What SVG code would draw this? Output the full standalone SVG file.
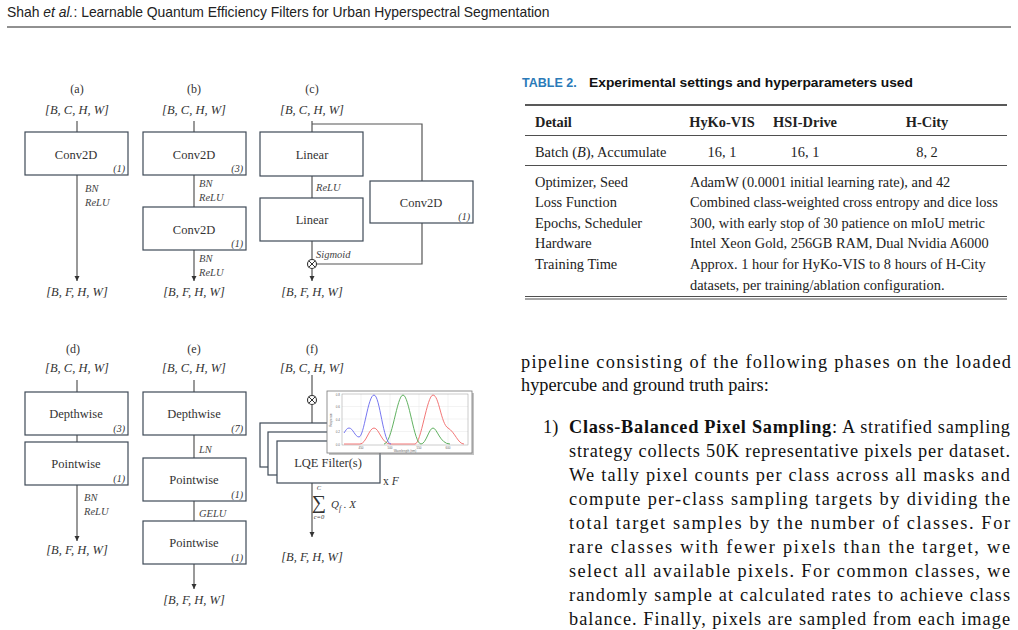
<svg xmlns="http://www.w3.org/2000/svg" width="1018" height="630" viewBox="0 0 1018 630">
<style>
.hdr{font-family:"Liberation Sans",Arial,sans-serif;font-size:13.9px;fill:#222}
.lbl{font-family:"Liberation Serif","Times New Roman",serif;font-size:12px;fill:#333;text-anchor:middle}
.dim{font-family:"Liberation Serif","Times New Roman",serif;font-size:12.5px;font-style:italic;fill:#333;text-anchor:middle}
.box{fill:#fff;stroke:#3e4a57;stroke-width:1.2}
.name{font-family:"Liberation Serif","Times New Roman",serif;font-size:12.5px;fill:#333;text-anchor:middle}
.k{font-family:"Liberation Serif","Times New Roman",serif;font-size:10px;font-style:italic;fill:#333;text-anchor:end}
.act{font-family:"Liberation Serif","Times New Roman",serif;font-size:10.5px;font-style:italic;fill:#444}
.ln{stroke:#555;stroke-width:1.2;fill:none}
.arr{stroke:#555;stroke-width:1.2;fill:none;marker-end:url(#ah)}
.tt{font-family:"Liberation Sans",Arial,sans-serif;font-size:12.5px;font-weight:bold}
.tb{font-family:"Liberation Serif","Times New Roman",serif;font-size:14.4px;fill:#222}
.tbc{font-family:"Liberation Serif","Times New Roman",serif;font-size:14.4px;fill:#222;text-anchor:middle}
.body{font-family:"Liberation Serif","Times New Roman",serif;font-size:18.3px;fill:#111}
.tiny{font-family:"Liberation Sans",Arial,sans-serif;font-size:3px;fill:#666}
</style>
<defs>
<marker id="ah" markerWidth="6" markerHeight="6" refX="5" refY="3" orient="auto" markerUnits="userSpaceOnUse">
<path d="M0,0.5 L5,3 L0,5.5 z" fill="#333"/>
</marker>
</defs>
<rect width="1018" height="630" fill="#fff"/>

<!-- page header -->
<text class="hdr" x="7" y="17">Shah <tspan font-style="italic">et al.</tspan>: Learnable Quantum Efficiency Filters for Urban Hyperspectral Segmentation</text>
<line x1="7" y1="27" x2="1011" y2="27" stroke="#222" stroke-width="1"/>

<!-- connectors -->
<g id="connectors">
<!-- a -->
<line class="ln" x1="77" y1="121" x2="77" y2="132"/>
<line class="arr" x1="77" y1="175" x2="77" y2="281"/>
<!-- b -->
<line class="ln" x1="194" y1="121" x2="194" y2="132"/>
<line class="ln" x1="194" y1="175" x2="194" y2="207"/>
<line class="arr" x1="194" y1="250" x2="194" y2="281"/>
<!-- c -->
<line class="ln" x1="312" y1="121" x2="312" y2="132"/>
<polyline class="ln" points="312,124 422,124 422,181"/>
<line class="ln" x1="312" y1="176" x2="312" y2="198"/>
<line class="ln" x1="312" y1="241" x2="312" y2="259.5"/>
<polyline class="ln" points="422,223 422,264 316.5,264"/>
<line class="arr" x1="312" y1="268.5" x2="312" y2="281"/>
<!-- d -->
<line class="ln" x1="77" y1="380" x2="77" y2="392"/>
<line class="ln" x1="77" y1="435" x2="77" y2="442"/>
<line class="arr" x1="77" y1="485" x2="77" y2="541"/>
<!-- e -->
<line class="ln" x1="194" y1="380" x2="194" y2="392"/>
<line class="ln" x1="194" y1="435" x2="194" y2="458"/>
<line class="ln" x1="194" y1="501" x2="194" y2="521"/>
<line class="arr" x1="194" y1="564" x2="194" y2="589"/>
<!-- f -->
<line class="ln" x1="312" y1="375" x2="312" y2="395.5"/>
<line class="ln" x1="312" y1="404.5" x2="312" y2="423"/>
<line class="arr" x1="312" y1="483" x2="312" y2="537"/>
</g>

<!-- (a) -->
<g id="a">
<text class="lbl" x="77" y="93">(a)</text>
<text class="dim" x="77" y="114">[B, C, H, W]</text>
<g id="a-conv"><rect class="box" x="25" y="132" width="103" height="43"/>
<text class="name" x="76" y="159">Conv2D</text><text class="k" x="125" y="172">(1)</text></g>
<text class="act" x="85" y="192">BN</text>
<text class="act" x="85" y="206">ReLU</text>
<text class="dim" x="77" y="296">[B, F, H, W]</text>
</g>

<!-- (b) -->
<g id="b">
<text class="lbl" x="194" y="93">(b)</text>
<text class="dim" x="194" y="114">[B, C, H, W]</text>
<g id="b-conv1"><rect class="box" x="143" y="132" width="103" height="43"/>
<text class="name" x="194" y="159">Conv2D</text><text class="k" x="243" y="172">(3)</text></g>
<text class="act" x="199" y="187">BN</text>
<text class="act" x="199" y="201">ReLU</text>
<g id="b-conv2"><rect class="box" x="143" y="207" width="103" height="43"/>
<text class="name" x="194" y="234">Conv2D</text><text class="k" x="243" y="247">(1)</text></g>
<text class="act" x="199" y="262">BN</text>
<text class="act" x="199" y="276">ReLU</text>
<text class="dim" x="194" y="296">[B, F, H, W]</text>
</g>

<!-- (c) -->
<g id="c">
<text class="lbl" x="312" y="93">(c)</text>
<text class="dim" x="312" y="114">[B, C, H, W]</text>
<g id="c-lin1"><rect class="box" x="260" y="132" width="103" height="44"/>
<text class="name" x="312" y="159">Linear</text></g>
<text class="act" x="316" y="191">ReLU</text>
<g id="c-lin2"><rect class="box" x="260" y="198" width="103" height="43"/>
<text class="name" x="312" y="224">Linear</text></g>
<text class="act" x="316" y="258">Sigmoid</text>
<g id="c-conv"><rect class="box" x="370" y="181" width="103" height="42"/>
<text class="name" x="421" y="207">Conv2D</text><text class="k" x="470" y="220">(1)</text></g>
<g id="c-mul"><circle cx="312" cy="264" r="4.5" fill="#fff" stroke="#333" stroke-width="1.1"/>
<path d="M308.8,260.8 L315.2,267.2 M315.2,260.8 L308.8,267.2" stroke="#333" stroke-width="1"/></g>
<text class="dim" x="312" y="296">[B, F, H, W]</text>
</g>

<!-- (d) -->
<g id="d">
<text class="lbl" x="73" y="353">(d)</text>
<text class="dim" x="77" y="372">[B, C, H, W]</text>
<g id="d-dw"><rect class="box" x="25" y="392" width="103" height="43"/>
<text class="name" x="76" y="418">Depthwise</text><text class="k" x="125" y="432">(3)</text></g>
<g id="d-pw"><rect class="box" x="25" y="442" width="103" height="43"/>
<text class="name" x="76" y="468">Pointwise</text><text class="k" x="125" y="482">(1)</text></g>
<text class="act" x="84" y="501">BN</text>
<text class="act" x="84" y="515">ReLU</text>
<text class="dim" x="77" y="554">[B, F, H, W]</text>
</g>

<!-- (e) -->
<g id="e">
<text class="lbl" x="194" y="353">(e)</text>
<text class="dim" x="194" y="372">[B, C, H, W]</text>
<g id="e-dw"><rect class="box" x="143" y="392" width="103" height="43"/>
<text class="name" x="194" y="418">Depthwise</text><text class="k" x="243" y="432">(7)</text></g>
<text class="act" x="199" y="453">LN</text>
<g id="e-pw1"><rect class="box" x="143" y="458" width="103" height="43"/>
<text class="name" x="194" y="484">Pointwise</text><text class="k" x="243" y="498">(1)</text></g>
<text class="act" x="199" y="517">GELU</text>
<g id="e-pw2"><rect class="box" x="143" y="521" width="103" height="43"/>
<text class="name" x="194" y="547">Pointwise</text><text class="k" x="243" y="561">(1)</text></g>
<text class="dim" x="194" y="604">[B, F, H, W]</text>
</g>

<!-- (f) -->
<g id="f">
<text class="lbl" x="312" y="353">(f)</text>
<text class="dim" x="312" y="372">[B, C, H, W]</text>
<g id="f-mul"><circle cx="312" cy="400" r="4.5" fill="#fff" stroke="#333" stroke-width="1.1"/>
<path d="M308.8,396.8 L315.2,403.2 M315.2,396.8 L308.8,403.2" stroke="#333" stroke-width="1"/></g>
<g id="f-filters">
<rect class="box" x="260" y="423" width="103" height="44"/>
<rect class="box" x="268" y="432" width="103" height="43"/>
<rect class="box" x="277" y="441" width="103" height="42"/>
<text class="name" x="328" y="467" font-size="13">LQE Filter(s)</text>
</g>
<text x="383" y="485" font-family="Liberation Serif, serif" font-size="11.5" fill="#333">x <tspan font-style="italic">F</tspan></text>
<g id="f-chart">
<rect x="329" y="393" width="145" height="62" fill="#888" opacity="0.5"/>
<rect x="327" y="391" width="145" height="62" fill="#fff" stroke="#777" stroke-width="0.8"/>
<g stroke="#e6e6e6" stroke-width="0.5">
<line x1="342" y1="406.5" x2="468" y2="406.5"/><line x1="342" y1="419" x2="468" y2="419"/><line x1="342" y1="431.5" x2="468" y2="431.5"/>
<line x1="361" y1="394" x2="361" y2="445"/><line x1="390" y1="394" x2="390" y2="445"/><line x1="419" y1="394" x2="419" y2="445"/><line x1="448" y1="394" x2="448" y2="445"/>
</g>
<rect x="342" y="394" width="126" height="51" fill="none" stroke="#999" stroke-width="0.5"/>
<path d="M344,444 L360,444 C366,444 369,428 374,428 C379,428 382,444 390,444 L415,444 C421,444 427,395 433,395 C439,395 441,424 448,428 C455,432 458,444 464,444" fill="none" stroke="#f06868" stroke-width="0.9"/>
<path d="M384,444 C392,444 397,395 403,395 C409,395 414,444 421,444 C426,444 429,428 433,428 C437,428 440,444 450,444" fill="none" stroke="#4fa84f" stroke-width="0.9"/>
<path d="M344,433 C346,430 347,428 349,428 C353,428 355,437 359,437 C364,437 368,395 374,395 C380,395 383,444 391,444" fill="none" stroke="#6666ee" stroke-width="0.9"/>
<text class="tiny" x="340" y="396" text-anchor="end">0.8</text>
<text class="tiny" x="340" y="408" text-anchor="end">0.6</text>
<text class="tiny" x="340" y="421" text-anchor="end">0.4</text>
<text class="tiny" x="340" y="433" text-anchor="end">0.2</text>
<text class="tiny" x="340" y="446" text-anchor="end">0.0</text>
<text class="tiny" x="361" y="449" text-anchor="middle">450</text>
<text class="tiny" x="390" y="449" text-anchor="middle">500</text>
<text class="tiny" x="419" y="449" text-anchor="middle">550</text>
<text class="tiny" x="448" y="449" text-anchor="middle">600</text>
<text class="tiny" x="405" y="452" text-anchor="middle">Wavelength (nm)</text>
<text class="tiny" transform="translate(332,420) rotate(-90)" text-anchor="middle">Response</text>
</g>
<g id="f-sum" font-family="Liberation Serif, serif" fill="#333" font-style="italic">
<text x="319" y="490" font-size="6.5" text-anchor="middle">C</text>
<text x="319" y="509" font-size="20" font-style="normal" text-anchor="middle">∑</text>
<text x="319" y="519" font-size="6.5" text-anchor="middle">c=0</text>
<text x="331" y="508" font-size="11">Q<tspan font-size="7.5" dy="2.5">f</tspan><tspan dy="-2.5"> . X</tspan></text>
</g>
<text class="dim" x="312" y="561">[B, F, H, W]</text>
</g>

<!-- Table -->
<g id="table">
<text class="tt" x="522" y="87" fill="#2a7ab8">TABLE 2.</text>
<text class="tt" x="589" y="87" fill="#111" textLength="324" lengthAdjust="spacingAndGlyphs">Experimental settings and hyperparameters used</text>
<line x1="525" y1="105" x2="1007" y2="105" stroke="#222" stroke-width="1.5"/>
<text class="tb" x="535" y="127" font-weight="bold">Detail</text>
<text class="tbc" x="722" y="127" font-weight="bold">HyKo-VIS</text>
<text class="tbc" x="805" y="127" font-weight="bold">HSI-Drive</text>
<text class="tbc" x="927" y="127" font-weight="bold">H-City</text>
<line x1="525" y1="135.5" x2="1007" y2="135.5" stroke="#222" stroke-width="0.8"/>
<text class="tb" x="535" y="157">Batch (<tspan font-style="italic">B</tspan>), Accumulate</text>
<text class="tbc" x="722" y="157">16, 1</text>
<text class="tbc" x="805" y="157">16, 1</text>
<text class="tbc" x="927" y="157">8, 2</text>
<line x1="525" y1="165.5" x2="1007" y2="165.5" stroke="#222" stroke-width="0.8"/>
<text class="tb" x="535" y="187">Optimizer, Seed</text>
<text class="tb" x="690" y="187">AdamW (0.0001 initial learning rate), and 42</text>
<text class="tb" x="535" y="207">Loss Function</text>
<text class="tb" x="690" y="207">Combined class-weighted cross entropy and dice loss</text>
<text class="tb" x="535" y="228">Epochs, Scheduler</text>
<text class="tb" x="690" y="228">300, with early stop of 30 patience on mIoU metric</text>
<text class="tb" x="535" y="248">Hardware</text>
<text class="tb" x="690" y="248">Intel Xeon Gold, 256GB RAM, Dual Nvidia A6000</text>
<text class="tb" x="535" y="269">Training Time</text>
<text class="tb" x="690" y="269">Approx. 1 hour for HyKo-VIS to 8 hours of H-City</text>
<text class="tb" x="690" y="290">datasets, per training/ablation configuration.</text>
<line x1="525" y1="296.5" x2="1007" y2="296.5" stroke="#222" stroke-width="0.8"/>
<line x1="525" y1="299" x2="1007" y2="299" stroke="#222" stroke-width="0.8"/>
</g>

<!-- Body text -->
<g id="body">
<text class="body" x="521" y="368" textLength="490" lengthAdjust="spacing">pipeline consisting of the following phases on the loaded</text>
<text class="body" x="521" y="391">hypercube and ground truth pairs:</text>
<text class="body" x="543" y="433">1)</text>
<text class="body" x="569" y="433" textLength="441" lengthAdjust="spacing"><tspan font-weight="bold">Class-Balanced Pixel Sampling</tspan>: A stratified sampling</text>
<text class="body" x="569" y="457" textLength="441" lengthAdjust="spacing">strategy collects 50K representative pixels per dataset.</text>
<text class="body" x="569" y="481" textLength="441" lengthAdjust="spacing">We tally pixel counts per class across all masks and</text>
<text class="body" x="569" y="505" textLength="441" lengthAdjust="spacing">compute per-class sampling targets by dividing the</text>
<text class="body" x="569" y="529" textLength="441" lengthAdjust="spacing">total target samples by the number of classes. For</text>
<text class="body" x="569" y="553" textLength="441" lengthAdjust="spacing">rare classes with fewer pixels than the target, we</text>
<text class="body" x="569" y="577" textLength="441" lengthAdjust="spacing">select all available pixels. For common classes, we</text>
<text class="body" x="569" y="601" textLength="441" lengthAdjust="spacing">randomly sample at calculated rates to achieve class</text>
<text class="body" x="569" y="625" textLength="441" lengthAdjust="spacing">balance. Finally, pixels are sampled from each image</text>
</g>
</svg>
